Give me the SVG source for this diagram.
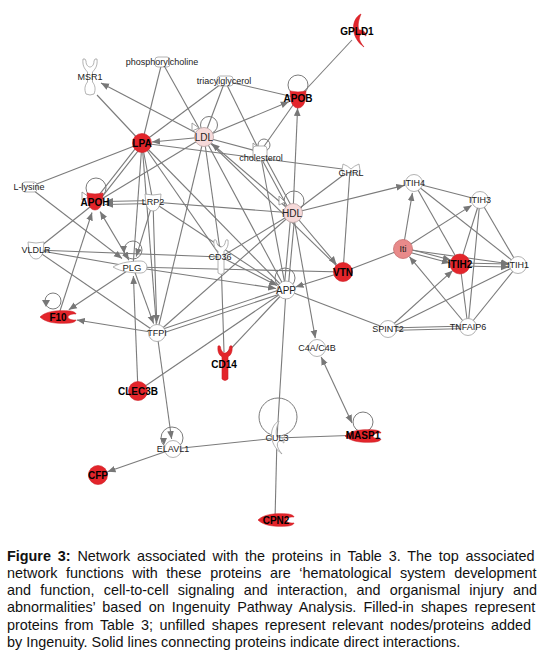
<svg xmlns="http://www.w3.org/2000/svg" width="543" height="664" viewBox="0 0 543 664">
<defs>
<style>
.e{stroke:#7b7b7b;stroke-width:1.1;fill:none}
.a{marker-end:url(#ah)}
.b{marker-start:url(#ah);marker-end:url(#ah)}
.w{fill:#fff;stroke:#a0a0a0;stroke-width:0.8}
.r{fill:#e3252b;stroke:#cf1f25;stroke-width:0.6}
.p{fill:#f6d9d9;stroke:#b8a2a2;stroke-width:0.8}
.loop{fill:none;stroke:#7b7b7b;stroke-width:1}
.t{font-family:"Liberation Sans",Arial,sans-serif;font-size:9px;fill:#222;text-anchor:middle}
.tb{font-family:"Liberation Sans",Arial,sans-serif;font-size:10px;font-weight:bold;fill:#000;text-anchor:middle}
.cap{font-family:"Liberation Sans",Arial,sans-serif;font-size:14.4px;fill:#111}
.ahw{fill:#fff;stroke:#8a8a8a;stroke-width:0.8}
.ahg{fill:#777}
</style>
<marker id="ah" viewBox="0 0 10 10" refX="10" refY="5" markerWidth="8" markerHeight="8" markerUnits="userSpaceOnUse" orient="auto-start-reverse">
<path d="M0,0.8 L10,5 L0,9.2 z" fill="#777"/>
</marker>
<path id="cup" d="M-8,-8 Q0,-6 8,-8 L7,2 Q5,9 0,9 Q-5,9 -7,2 Z"/>
<path id="rcp" d="M-7,-17 C-8,-9 -4,-7 -3,-6 L-3,16 Q0,19 3,16 L3,-6 C4,-7 8,-9 7,-17 Q5,-18 4.5,-16 C4,-11 1,-10 0,-10 C-1,-10 -4,-11 -4.5,-16 Q-5,-18 -7,-17 Z"/>
<path id="enz" d="M2,-17 C-8,-12 -9,6 5,16 C0,10 -1,6 2,3 C5,2 6,5 7,5 C7,0 3,-1 0,-1 C-2,-6 0,-12 2,-17 Z"/>
<path id="pep" d="M-18,0 C-12,-6 0,-7 12,-6 C16,-5.5 18,-4 18,-3 C14,-3.5 10,-2 10,0 C10,2 14,3.5 18,3 C18,4 16,5.5 12,6 C0,7 -12,6 -18,0 Z"/>
</defs>
<rect width="543" height="664" fill="#fff"/>

<g id="connectors">
<!-- plain -->
<line class="e" x1="352" y1="40" x2="298" y2="98"/>
<line class="e" x1="225" y1="81" x2="298" y2="98"/>
<line class="e" x1="260" y1="152" x2="298" y2="98"/>
<line class="e" x1="162" y1="62" x2="142" y2="143"/>
<line class="e" x1="162" y1="62" x2="204" y2="137"/>
<line class="e" x1="225" y1="81" x2="142" y2="143"/>
<line class="e" x1="225" y1="81" x2="204" y2="137"/>
<line class="e" x1="225" y1="81" x2="260" y2="152"/>
<line class="e" x1="142" y1="143" x2="97" y2="95"/>
<line class="e" x1="142" y1="143" x2="350" y2="170"/>
<line class="e" x1="142" y1="143" x2="29" y2="187"/>
<line class="e" x1="143.4" y1="144.1" x2="96.4" y2="204.1"/>
<line class="e" x1="140.6" y1="141.9" x2="93.6" y2="201.9"/>
<line class="e" x1="142" y1="143" x2="153" y2="202"/>
<line class="e" x1="142" y1="143" x2="133" y2="267"/>
<line class="e" x1="142" y1="143" x2="157" y2="333"/>
<line class="e" x1="142" y1="143" x2="221" y2="257"/>
<line class="e" x1="142" y1="143" x2="286" y2="290"/>
<line class="e" x1="204" y1="137" x2="260" y2="152"/>
<line class="e" x1="204" y1="137" x2="95" y2="203"/>
<line class="e" x1="204" y1="137" x2="157" y2="333"/>
<line class="e" x1="204" y1="137" x2="221" y2="257"/>
<line class="e" x1="204" y1="137" x2="286" y2="290"/>
<line class="e" x1="204" y1="137" x2="343" y2="272"/>
<line class="e" x1="261.6" y1="151.1" x2="294.6" y2="212.1"/>
<line class="e" x1="258.4" y1="152.9" x2="291.4" y2="213.9"/>
<line class="e" x1="260" y1="152" x2="286" y2="290"/>
<line class="e" x1="293" y1="213" x2="350" y2="170"/>
<line class="e" x1="293" y1="213" x2="153" y2="202"/>
<line class="e" x1="291" y1="213" x2="284" y2="290"/>
<line class="e" x1="295" y1="213" x2="288" y2="290"/>
<line class="e" x1="293" y1="213" x2="157" y2="333"/>
<line class="e" x1="293" y1="213" x2="221" y2="257"/>
<line class="e" x1="350" y1="170" x2="343" y2="272"/>
<line class="e" x1="36" y1="250" x2="95" y2="203"/>
<line class="e" x1="36" y1="250" x2="221" y2="257"/>
<line class="e" x1="36" y1="250" x2="133" y2="267"/>
<line class="e" x1="36" y1="250" x2="157" y2="333"/>
<line class="e" x1="133" y1="267" x2="343" y2="272"/>
<line class="e" x1="153" y1="202" x2="286" y2="290"/>
<line class="e" x1="221" y1="257" x2="224" y2="352"/>
<line class="e" x1="157" y1="331" x2="285" y2="288"/>
<line class="e" x1="157" y1="335" x2="286" y2="292"/>
<line class="e" x1="138" y1="391" x2="286" y2="290"/>
<line class="e" x1="225" y1="355" x2="286" y2="290"/>
<line class="e" x1="286" y1="290" x2="277" y2="438"/>
<line class="e" x1="286" y1="290" x2="388" y2="329"/>
<line class="e" x1="343" y1="272" x2="403" y2="249"/>
<line class="e" x1="388" y1="328" x2="468" y2="326"/>
<line class="e" x1="388" y1="330.5" x2="468" y2="328.5"/>
<line class="e" x1="388" y1="329" x2="518" y2="265"/>
<line class="e" x1="468" y1="327" x2="460" y2="264"/>
<line class="e" x1="468" y1="327" x2="480" y2="200"/>
<line class="e" x1="468" y1="327" x2="518" y2="265"/>
<line class="e" x1="414" y1="183" x2="480" y2="200"/>
<line class="e" x1="414" y1="183" x2="460" y2="264"/>
<line class="e" x1="414" y1="183" x2="518" y2="265"/>
<line class="e" x1="480" y1="200" x2="460" y2="264"/>
<line class="e" x1="480" y1="200" x2="518" y2="265"/>
<line class="e" x1="277" y1="438" x2="363" y2="435"/>
<line class="e" x1="277" y1="438" x2="173" y2="449"/>
<line class="e" x1="277" y1="438" x2="275" y2="520"/>
<!-- arrows -->
<line class="e a" x1="204" y1="137" x2="288.8" y2="101.8"/>
<line class="e a" x1="293" y1="213" x2="297.6" y2="108"/>
<line class="e a" x1="204" y1="137" x2="101" y2="83"/>
<line class="e a" x1="204" y1="137" x2="152" y2="142"/>
<line class="e a" x1="293" y1="213" x2="211.6" y2="143.5"/>
<line class="e a" x1="29" y1="187" x2="122" y2="258.5"/>
<line class="e b" x1="100.1" y1="211.6" x2="128.9" y2="260.1"/>
<line class="e a" x1="153" y1="200.5" x2="105" y2="201.5"/>
<line class="e a" x1="153" y1="203.5" x2="105" y2="204.5"/>
<line class="e a" x1="58" y1="317" x2="92" y2="212.5"/>
<line class="e a" x1="133" y1="267" x2="68.8" y2="309.8"/>
<line class="e a" x1="157" y1="333" x2="76.8" y2="320"/>
<line class="e a" x1="153" y1="202" x2="136.2" y2="256.5"/>
<line class="e a" x1="133" y1="267" x2="153.6" y2="323.6"/>
<line class="e a" x1="153" y1="202" x2="156.7" y2="323"/>
<line class="e a" x1="138" y1="391" x2="133.4" y2="276"/>
<line class="e a" x1="157" y1="333" x2="171.6" y2="439"/>
<line class="e a" x1="173" y1="449" x2="107.5" y2="471.7"/>
<line class="e a" x1="133" y1="267" x2="276.1" y2="288.5"/>
<line class="e a" x1="221" y1="257" x2="277" y2="285.5"/>
<line class="e a" x1="343" y1="272" x2="295.5" y2="287"/>
<line class="e a" x1="293" y1="213" x2="336.5" y2="264.4"/>
<line class="e a" x1="293" y1="213" x2="404.3" y2="185.4"/>
<line class="e a" x1="293" y1="213" x2="315.3" y2="338.2"/>
<line class="e b" x1="352" y1="423" x2="321.2" y2="357.1"/>
<line class="e a" x1="403" y1="249" x2="412.4" y2="192.9"/>
<line class="e a" x1="403" y1="249" x2="471.6" y2="205.4"/>
<line class="e a" x1="403.4" y1="247.5" x2="450.7" y2="260"/>
<line class="e a" x1="402.6" y1="250.5" x2="449.9" y2="263"/>
<line class="e a" x1="403" y1="249" x2="509.1" y2="263.8"/>
<line class="e a" x1="460" y1="263" x2="509" y2="264"/>
<line class="e a" x1="460" y1="266" x2="509" y2="267"/>
<line class="e a" x1="468" y1="327" x2="409.4" y2="256.7"/>
<line class="e a" x1="388" y1="329" x2="452.6" y2="270.7"/>
<!-- self loops -->
<circle class="loop" cx="298" cy="85" r="10"/>
<circle class="loop" cx="209" cy="125" r="8.5"/>
<circle class="loop" cx="96" cy="188" r="10"/>
<circle class="loop" cx="133" cy="250" r="9"/>
<circle class="loop" cx="294" cy="201" r="10"/>
<circle class="loop" cx="285" cy="278" r="10"/>
<circle class="loop" cx="264" cy="145" r="6"/>
<circle class="loop" cx="53" cy="301" r="8"/>
<circle class="loop" cx="172" cy="438" r="11"/>
<circle class="loop" cx="363" cy="422" r="10"/>
<circle class="loop" cx="278" cy="417" r="19"/>
<polygon class="ahw" points="192,123 199,128 192,131"/>
<polygon class="ahw" points="82,192 89,197 82,200"/>
<polygon class="ahw" points="279,196 285,202 279,205"/>
<polygon class="ahw" points="253,143 259,148 253,151"/>
<polygon class="ahg" points="42,300 50,300 46,307"/>
<polygon class="ahg" points="160,438 167,438 164,445"/>
<polygon class="ahg" points="120,246 127,246 124,253"/>
</g>

<g id="GPLD1"><use href="#enz" class="r" transform="translate(359,31)"/><text class="tb" x="357" y="35">GPLD1</text></g>
<g id="MSR1"><path class="w" transform="translate(90,77)" d="M-7,-18 C-8,-10 -4,-7 -2.5,-5 L-2.5,5 C-5,8 -6,12 -4,17 Q0,19 4,17 C6,12 5,8 2.5,5 L2.5,-5 C4,-7 8,-10 7,-18 Q4.5,-19 4,-16 C4,-11 1,-10 0,-10 C-1,-10 -4,-11 -4,-16 Q-4.5,-19 -7,-18 Z"/><text class="t" x="90" y="80">MSR1</text></g>
<g id="phosphorylcholine"><rect class="w" x="155" y="57" width="15" height="10" rx="3"/><text class="t" x="162" y="65">phosphorylcholine</text></g>
<g id="triacylglycerol"><rect class="w" x="217" y="76" width="16" height="10" rx="3"/><text class="t" x="224" y="84">triacylglycerol</text></g>
<g id="APOB"><use href="#cup" class="r" transform="translate(298,99)"/><text class="tb" x="298" y="102">APOB</text></g>
<g id="LPA"><circle class="r" cx="142" cy="143" r="9.5"/><text class="tb" x="142" y="146.5">LPA</text></g>
<g id="LDL"><circle class="p" cx="204" cy="137" r="9.5"/><text class="t" style="font-size:10px" x="204" y="140.5">LDL</text></g>
<g id="cholesterol"><rect class="w" x="253" y="146" width="14" height="15" rx="3"/><text class="t" x="261" y="161">cholesterol</text></g>
<g id="GHRL"><path class="w" transform="translate(351,170)" d="M-8,-6 Q-3,-4 0,-1 Q3,-4 8,-6 Q10,0 8,6 Q3,4 0,1 Q-3,4 -8,6 Q-10,0 -8,-6 Z"/><text class="t" x="351" y="176">GHRL</text></g>
<g id="L-lysine"><rect class="w" x="22" y="182" width="15" height="10" rx="3"/><text class="t" x="29" y="190">L-lysine</text></g>
<g id="APOH"><use href="#cup" class="r" transform="translate(95,201)"/><text class="tb" x="95" y="205.5">APOH</text></g>
<g id="LRP2"><use href="#cup" class="w" transform="translate(153,202)"/><text class="t" x="153" y="205">LRP2</text></g>
<g id="HDL"><circle class="p" cx="293" cy="213" r="9.5"/><text class="t" style="font-size:10px" x="292" y="216.5">HDL</text></g>
<g id="ITIH4"><circle class="w" cx="414" cy="183" r="8.5"/><text class="t" x="414" y="186">ITIH4</text></g>
<g id="ITIH3"><circle class="w" cx="480" cy="200" r="8.5"/><text class="t" x="480" y="203">ITIH3</text></g>
<g id="VLDLR"><use href="#cup" class="w" transform="translate(36,250)"/><text class="t" x="36" y="253">VLDLR</text></g>
<g id="CD36"><use href="#rcp" class="w" transform="translate(221,257)"/><text class="t" x="220" y="260">CD36</text></g>
<g id="PLG"><path class="w" transform="translate(133,267)" d="M-20,0 C-12,-5 0,-6 8,-6 A6,6 0 0 1 8,6 C0,6 -12,5 -20,0 Z"/><text class="t" style="font-size:9.5px" x="132" y="270.5">PLG</text></g>
<g id="Iti"><circle cx="403" cy="249" r="9.5" fill="#e88a8a" stroke="#c87070" stroke-width="0.8"/><text class="t" x="403" y="252">Iti</text></g>
<g id="VTN"><circle class="r" cx="343" cy="272" r="9.5"/><text class="tb" x="343" y="275.5">VTN</text></g>
<g id="ITIH2"><circle class="r" cx="460" cy="264" r="10"/><text class="tb" x="460" y="267.5">ITIH2</text></g>
<g id="ITIH1"><circle class="w" cx="518" cy="265" r="8.5"/><text class="t" x="518" y="268">ITIH1</text></g>
<g id="APP"><circle class="w" cx="286" cy="290" r="9"/><text class="t" style="font-size:10px" x="286" y="293.5">APP</text></g>
<g id="F10"><use href="#pep" class="r" transform="translate(58,317)"/><text class="tb" x="58" y="320.5">F10</text></g>
<g id="TFPI"><circle class="w" cx="157" cy="333" r="8.5"/><text class="t" x="157" y="336">TFPI</text></g>
<g id="SPINT2"><circle class="w" cx="388" cy="329" r="8.5"/><text class="t" x="388" y="332">SPINT2</text></g>
<g id="TNFAIP6"><circle class="w" cx="468" cy="327" r="8.5"/><text class="t" x="468" y="330">TNFAIP6</text></g>
<g id="C4A-C4B"><circle class="w" cx="317" cy="348" r="8.5"/><text class="t" x="317" y="351">C4A/C4B</text></g>
<g id="CD14"><use href="#rcp" class="r" transform="translate(225,363)"/><text class="tb" x="224" y="367.5">CD14</text></g>
<g id="CLEC3B"><circle class="r" cx="138" cy="391" r="9.5"/><text class="tb" x="138" y="394.5">CLEC3B</text></g>
<g id="ELAVL1"><circle class="w" cx="173" cy="449" r="8.5"/><text class="t" x="173" y="452">ELAVL1</text></g>
<g id="CUL3"><use href="#enz" class="w" transform="translate(277,438)"/><text class="t" x="277" y="441">CUL3</text></g>
<g id="MASP1"><use href="#pep" class="r" transform="translate(363,436)"/><text class="tb" x="363" y="439">MASP1</text></g>
<g id="CFP"><circle class="r" cx="98" cy="475" r="9.5"/><text class="tb" x="98" y="478.5">CFP</text></g>
<g id="CPN2"><use href="#pep" class="r" transform="translate(276,520)"/><text class="tb" x="276" y="523.5">CPN2</text></g>

<g id="caption">
<text class="cap" x="7" y="560.5" word-spacing="2.8"><tspan font-weight="bold">Figure 3:</tspan> Network associated with the proteins in Table 3. The top associated</text>
<text class="cap" x="7" y="577.8" word-spacing="4.6">network functions with these proteins are ‘hematological system development</text>
<text class="cap" x="7" y="595.1" word-spacing="5.2">and function, cell-to-cell signaling and interaction, and organismal injury and</text>
<text class="cap" x="7" y="612.4" word-spacing="3.1">abnormalities’ based on Ingenuity Pathway Analysis. Filled-in shapes represent</text>
<text class="cap" x="7" y="629.7" word-spacing="2.6">proteins from Table 3; unfilled shapes represent relevant nodes/proteins added</text>
<text class="cap" x="7" y="647">by Ingenuity. Solid lines connecting proteins indicate direct interactions.</text>
</g>
</svg>
